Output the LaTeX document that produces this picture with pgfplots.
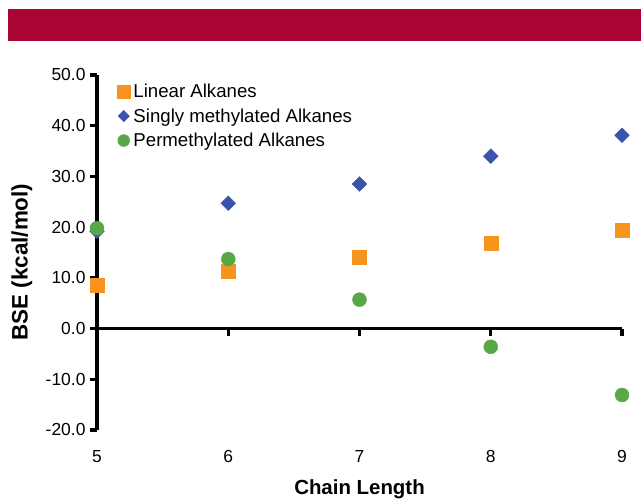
\documentclass[border=0pt]{standalone}
\usepackage{fontspec}
\setmainfont{Liberation Sans}
\usepackage{pgfplots}
\pgfplotsset{compat=1.18}
\definecolor{banner}{RGB}{168,5,50}
\definecolor{lin}{RGB}{247,148,30}
\definecolor{sing}{RGB}{58,84,170}
\definecolor{perm}{RGB}{88,168,72}
\begin{document}
\begin{tikzpicture}[x=1bp,y=1bp]
\useasboundingbox (0,0) rectangle (641,500);
\fill[banner] (8,459) rectangle (641,491);
\begin{axis}[
  at={(97bp,70bp)}, anchor=south west,
  scale only axis, width=525bp, height=355bp,
  xmin=5, xmax=9, ymin=-20, ymax=50,
  clip=false,
  axis y line*=left, axis x line*=middle,
  hide obscured x ticks=false, hide obscured y ticks=false,
  every inner x axis line/.append style={line width=3.6bp},
  every outer x axis line/.append style={line width=3.6bp},
  every inner y axis line/.append style={line width=3.6bp},
  every outer y axis line/.append style={line width=3.6bp},
  every tick/.style={line width=3.2bp, black},
  major tick length=7bp,
  tick align=outside,
  xtick={5,6,7,8,9}, ytick={-20,-10,...,50},
  /pgf/number format/assume math mode=true,
  yticklabel={\pgfmathprintnumber[fixed,fixed zerofill,precision=1]{\tick}},
  ticklabel style={font=\fontsize{17.5}{20}\selectfont},
  yticklabel style={xshift=-1bp},
  xticklabel style={yshift=-111bp},
  xlabel={\textbf{Chain Length}},
  xlabel style={font=\fontsize{20.5}{24}\selectfont, at={(axis description cs:0.5,0)}, anchor=north, yshift=-46bp},
  ylabel={\textbf{BSE (kcal/mol)}},
  ylabel style={font=\fontsize{22.5}{26}\selectfont, at={(axis description cs:-0.143,0.473)}, anchor=center, rotate=0},
  legend style={draw=none, fill=none, at={(axis description cs:0.035,0.982)}, anchor=north west,
    font=\fontsize{18.7}{22}\selectfont, row sep=6.5bp, inner sep=1bp,
    nodes={inner sep=1.5bp}},
  legend cell align=left,
  legend image code/.code={\path (0bp,0bp) (15bp,0bp); \draw[#1] plot coordinates {(7bp,0bp)};},
]
\addlegendimage{only marks, mark=square*, mark size=6.5bp, color=lin}
\addlegendentry{Linear Alkanes}
\addlegendimage{only marks, mark=square*, mark size=4bp, mark options={rotate=45}, color=sing}
\addlegendentry{Singly methylated Alkanes}
\addlegendimage{only marks, mark=*, mark size=6bp, color=perm}
\addlegendentry{Permethylated Alkanes}
\addplot[only marks, mark=square*, mark size=7bp, color=lin, forget plot] coordinates {(5,8.5)(6,11.3)(7,14.1)(8,16.8)(9,19.4)};
\addplot[only marks, mark=square*, mark size=5.2bp, mark options={rotate=45}, color=sing, forget plot] coordinates {(5,19.2)(6,24.7)(7,28.5)(8,34.0)(9,38.1)};
\addplot[only marks, mark=*, mark size=7bp, color=perm, forget plot] coordinates {(5,19.8)(6,13.7)(7,5.7)(8,-3.6)(9,-13.1)};
\end{axis}
\end{tikzpicture}
\end{document}
